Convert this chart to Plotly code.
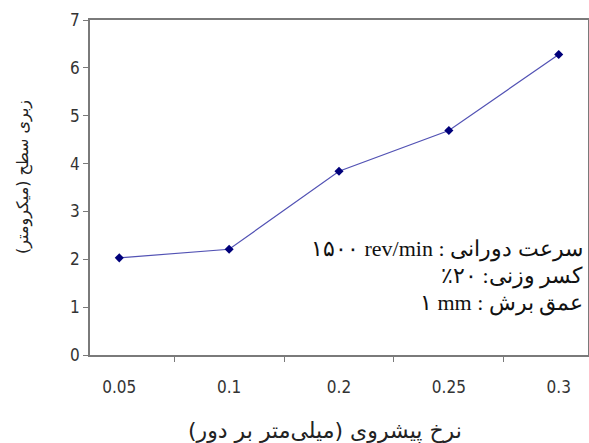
import plotly.graph_objects as go

RLE = "\u202B"
LRE = "\u202A"
PDF = "\u202C"
LRM = "\u200E"

feed_rates = ["0.05", "0.1", "0.2", "0.25", "0.3"]
roughness = [2.03, 2.21, 3.84, 4.69, 6.28]
y_ticks = [0, 1, 2, 3, 4, 5, 6, 7]

x_title = "نرخ پیشروی (میلی\u200cمتر بر دور)"
y_title = "زبری سطح (میکرومتر)"
notes = [
    "سرعت دورانی : " + LRM + "۱۵۰۰ rev/min",
    "کسر وزنی: " + LRE + "٪۲۰" + PDF,
    "عمق برش : " + LRM + "۱ mm",
]

W, H = 589, 443
L, R, T, B = 90, 1, 20, 88

fig = go.Figure()
fig.add_trace(go.Scatter(
    x=feed_rates, y=roughness, mode="lines+markers",
    line=dict(color="#5252b4", width=1.2),
    marker=dict(symbol="diamond", size=7, color="#00007a"),
    showlegend=False,
))

tick_font = dict(family="Liberation Sans Narrow, Arial Narrow, DejaVu Sans Condensed", size=17, color="#333333")

fig.update_layout(
    width=W, height=H,
    margin=dict(l=L, r=R, t=T, b=B, autoexpand=False),
    paper_bgcolor="white", plot_bgcolor="white",
    xaxis=dict(
        type="category", showgrid=False, zeroline=False, automargin=False,
        showline=True, linecolor="#7a7a7a", linewidth=1.5, mirror=True,
        ticks="outside", tickson="boundaries", ticklen=5, tickcolor="#7a7a7a",
        tickfont=tick_font, ticklabelstandoff=16,
    ),
    yaxis=dict(
        range=[0, 7], tickvals=y_ticks, showgrid=False, zeroline=False, automargin=False,
        showline=True, linecolor="#7a7a7a", linewidth=1.5, mirror=True,
        ticks="outside", ticklen=5, tickcolor="#7a7a7a",
        tickfont=tick_font,
    ),
)

fig.add_annotation(
    text=RLE + x_title + PDF, xref="paper", yref="paper",
    x=(325 - L) / (W - L - R), y=-(431 - (H - B)) / (H - T - B),
    xanchor="center", yanchor="middle", showarrow=False,
    font=dict(family="DejaVu Sans, Noto Sans, Arial", size=22, color="#222222"),
)
fig.add_annotation(
    text=RLE + y_title + PDF, xref="paper", yref="paper",
    x=-(L - 23) / (W - L - R), y=(H - B - 177) / (H - T - B),
    xanchor="center", yanchor="middle", showarrow=False, textangle=-90,
    font=dict(family="DejaVu Sans, Noto Sans, Arial", size=16, color="#222222"),
)

note_font = dict(family="Liberation Serif, Times New Roman, DejaVu Serif", size=22, color="#111111")
for txt, yc in zip(notes, [249, 276, 303]):
    fig.add_annotation(
        text=RLE + txt + PDF, xref="paper", yref="paper",
        x=(585 - L) / (W - L - R), y=(H - B - yc) / (H - T - B),
        xanchor="right", yanchor="middle", showarrow=False, font=note_font,
    )

fig.write_html(
    "out.html",
    config={"displayModeBar": False},
    post_script="document.body.style.margin='0';document.body.style.padding='0';document.body.style.overflow='hidden';",
)
